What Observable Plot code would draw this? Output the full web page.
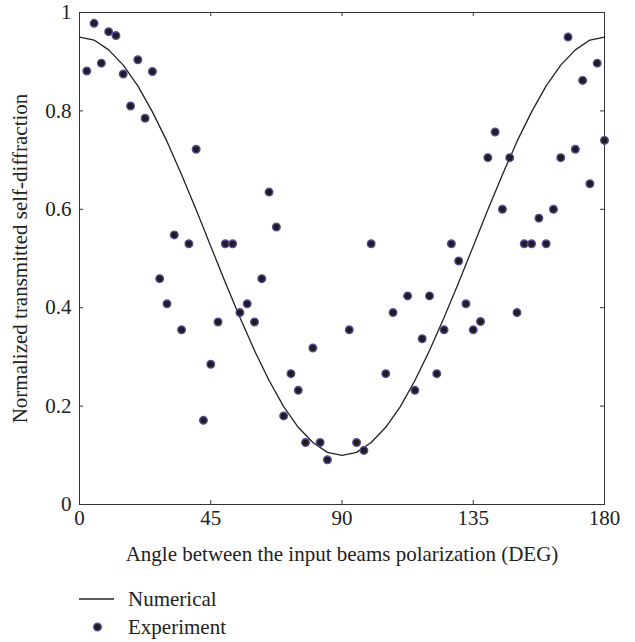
<!DOCTYPE html>
<html>
<head>
<meta charset="utf-8">
<script src="https://cdn.jsdelivr.net/npm/d3@7"></script>
<script src="https://cdn.jsdelivr.net/npm/@observablehq/plot@0.6"></script>
<style>
  html, body { margin: 0; padding: 0; background: #fff; }
  body { position: relative; width: 635px; height: 642px; overflow: hidden; font-family: "Liberation Serif", "Times New Roman", serif; }
  #legend { position: absolute; left: 0; top: 580px; }
</style>
</head>
<body>
<div id="chart"></div>
<svg id="legend" width="635" height="62"></svg>
<script>
const xTicks = [0, 45, 90, 135, 180];
const xTickLabels = ["0", "45", "90", "135", "180"];
const yTicks = [0, 0.2, 0.4, 0.6, 0.8, 1];
const yTickLabels = ["0", "0.2", "0.4", "0.6", "0.8", "1"];

const xTitle = "Angle between the input beams polarization (DEG)";
const yTitle = "Normalized transmitted self-diffraction";
const seriesNames = ["Numerical", "Experiment"];

// Experiment (dots)
const expAngle = [2.5, 5, 7.5, 10, 12.5, 15, 17.5, 20, 22.5, 25, 27.5, 30, 32.5, 35, 37.5, 40, 42.5, 45, 47.5, 50,
  52.5, 55, 57.5, 60, 62.5, 65, 67.5, 70, 72.5, 75, 77.5, 80, 82.5, 85, 92.5, 95, 97.5, 100, 105, 107.5,
  112.5, 115, 117.5, 120, 122.5, 125, 127.5, 130, 132.5, 135, 137.5, 140, 142.5, 145, 147.5, 150, 152.5, 155,
  157.5, 160, 162.5, 165, 167.5, 170, 172.5, 175, 177.5, 180];
const expValue = [0.881, 0.978, 0.897, 0.961, 0.953, 0.875, 0.810, 0.904, 0.785, 0.880, 0.459, 0.408, 0.548, 0.355, 0.530, 0.722, 0.171, 0.285, 0.371, 0.530,
  0.530, 0.390, 0.408, 0.371, 0.459, 0.635, 0.564, 0.180, 0.266, 0.232, 0.126, 0.318, 0.126, 0.091, 0.355, 0.126, 0.110, 0.530, 0.266, 0.390,
  0.424, 0.232, 0.337, 0.424, 0.266, 0.355, 0.530, 0.495, 0.408, 0.355, 0.372, 0.705, 0.757, 0.600, 0.705, 0.390, 0.530, 0.530,
  0.582, 0.530, 0.600, 0.705, 0.950, 0.722, 0.862, 0.652, 0.897, 0.740];

// Numerical (line)
const numAngle = [0, 5, 10, 15, 20, 25, 30, 35, 40, 45, 50, 55, 60, 65, 70, 75, 80, 85, 90,
  95, 100, 105, 110, 115, 120, 125, 130, 135, 140, 145, 150, 155, 160, 165, 170, 175, 180];
const numValue = [0.950, 0.944, 0.924, 0.893, 0.851, 0.798, 0.738, 0.670, 0.599, 0.525, 0.451, 0.380, 0.313, 0.252, 0.199, 0.157, 0.126, 0.106, 0.100,
  0.106, 0.126, 0.157, 0.199, 0.252, 0.313, 0.380, 0.451, 0.525, 0.599, 0.670, 0.738, 0.798, 0.851, 0.893, 0.924, 0.944, 0.950];

const experiment = expAngle.map((a, i) => ({angle: a, value: expValue[i]}));
const numerical = numAngle.map((a, i) => ({angle: a, value: numValue[i]}));

const W = 635, H = 580, mL = 79, mR = 31, mT = 12, mB = 76;
const innerW = W - mL - mR, innerH = H - mT - mB;
const tickLen = 4;
const axisColor = "#333";
const dotFill = "#1e1e1e", dotStroke = "#5e4a9c";
const fontStack = "'Liberation Serif', 'Times New Roman', serif";

const chart = Plot.plot({
  width: W, height: H,
  marginLeft: mL, marginRight: mR, marginTop: mT, marginBottom: mB,
  style: {fontFamily: fontStack, fontSize: "21px", color: "#222", background: "#fff", overflow: "visible"},
  x: {domain: [0, 180]},
  y: {domain: [0, 1]},
  marks: [
    Plot.frame({stroke: axisColor, strokeWidth: 1}),
    Plot.tickX(xTicks.slice(1, -1), {x: d => d, insetTop: innerH - tickLen, stroke: axisColor}),
    Plot.tickX(xTicks.slice(1, -1), {x: d => d, insetBottom: innerH - tickLen, stroke: axisColor}),
    Plot.tickY(yTicks.slice(1, -1), {y: d => d, insetRight: innerW - tickLen, stroke: axisColor}),
    Plot.tickY(yTicks.slice(1, -1), {y: d => d, insetLeft: innerW - tickLen, stroke: axisColor}),
    Plot.axisX({ticks: xTicks, tickSize: 0, tickPadding: 6, tickFormat: d => xTickLabels[xTicks.indexOf(d)],
      label: xTitle, labelAnchor: "center", labelOffset: 56, labelArrow: "none", fontSize: 21}),
    Plot.axisY({ticks: yTicks, tickSize: 0, tickPadding: 8, tickFormat: d => yTickLabels[yTicks.indexOf(d)],
      label: yTitle, labelAnchor: "center", labelOffset: 67, labelArrow: "none", fontSize: 21}),
    Plot.line(numerical, {x: "angle", y: "value", stroke: "#222", strokeWidth: 1.3}),
    Plot.dot(experiment, {x: "angle", y: "value", r: 3.8, fill: dotFill, stroke: dotStroke, strokeWidth: 1.4})
  ]
});
document.getElementById("chart").appendChild(chart);

// Legend
const lg = d3.select("#legend");
const rowY = [19, 47];
lg.append("line").attr("x1", 79).attr("x2", 114).attr("y1", rowY[0]).attr("y2", rowY[0])
  .attr("stroke", "#222").attr("stroke-width", 1.3);
lg.append("circle").attr("cx", 97.5).attr("cy", rowY[1]).attr("r", 3.8)
  .attr("fill", dotFill).attr("stroke", dotStroke).attr("stroke-width", 1.4);
seriesNames.forEach((name, i) => {
  lg.append("text").attr("x", 128).attr("y", rowY[i]).attr("dy", "0.35em")
    .attr("font-family", fontStack).attr("font-size", 21)
    .attr("fill", "#222").text(name);
});
</script>
</body>
</html>
